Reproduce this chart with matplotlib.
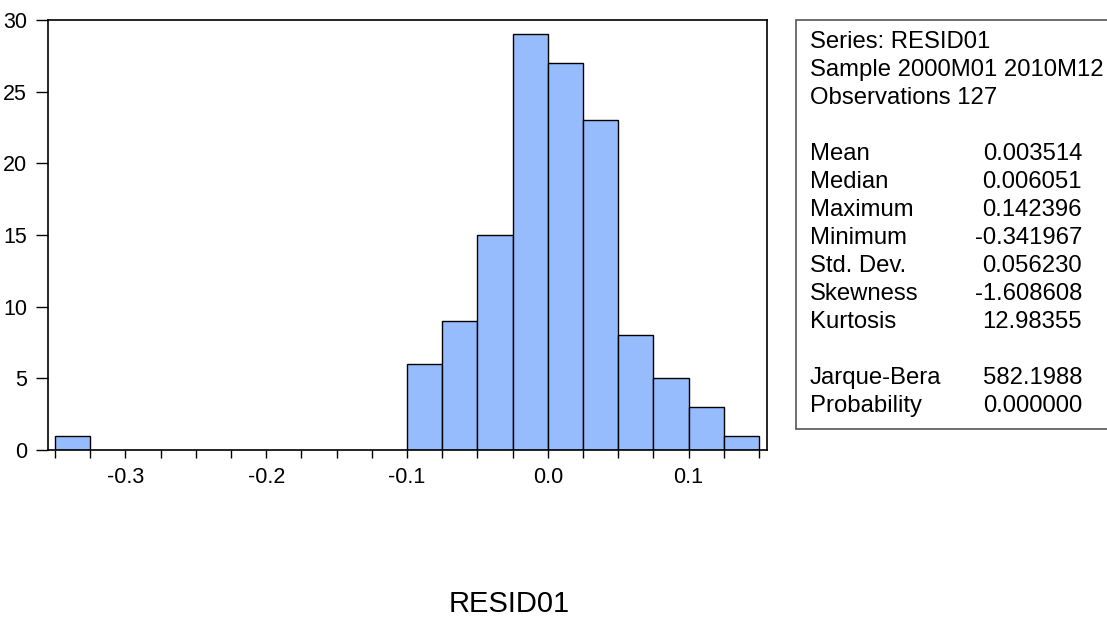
import matplotlib
matplotlib.use("Agg")
import matplotlib.pyplot as plt
from matplotlib.patches import Rectangle

plt.rcParams['font.family'] = ['Liberation Sans', 'DejaVu Sans']

# histogram of RESID01, bins of width 0.025
bin_left = [-0.35, -0.325, -0.3, -0.275, -0.25, -0.225, -0.2, -0.175, -0.15, -0.125,
            -0.1, -0.075, -0.05, -0.025, 0.0, 0.025, 0.05, 0.075, 0.1, 0.125]
counts = [1, 0, 0, 0, 0, 0, 0, 0, 0, 0,
          6, 9, 15, 29, 27, 23, 8, 5, 3, 1]

x_ticks = [-0.3, -0.2, -0.1, 0.0, 0.1]
y_ticks = [0, 5, 10, 15, 20, 25, 30]

header_lines = ["Series: RESID01", "Sample 2000M01 2010M12", "Observations 127"]
stat_names = ["Mean", "Median", "Maximum", "Minimum", "Std. Dev.", "Skewness", "Kurtosis",
              "", "Jarque-Bera", "Probability"]
stat_values = ["0.003514", "0.006051", "0.142396", "-0.341967", "0.056230", "-1.608608",
               "12.98355", "", "582.1988", "0.000000"]

W, H = 1107, 626
fig = plt.figure(figsize=(W / 100, H / 100), dpi=100)


def fx(x):
    return x / W


def fy(y):
    return 1 - y / H


ax = fig.add_axes([fx(48), fy(450), fx(767) - fx(48), fy(20) - fy(450)])

# skip empty bins so no flat outlines are drawn on the axis
bx = [b for b, c in zip(bin_left, counts) if c > 0]
bc = [c for c in counts if c > 0]
ax.bar(bx, bc, width=0.025, align='edge', color='#96BCFD', edgecolor='black', linewidth=1)

ax.set_xlim(-0.355, 0.1557)
ax.set_ylim(0, 30)
ax.set_yticks(y_ticks)
ax.set_xticks(x_ticks)
ax.set_xticklabels(["%.1f" % t for t in x_ticks])
ax.set_xticks([-0.35 + 0.025 * i for i in range(21)], minor=True)
ax.tick_params(axis='y', direction='out', length=9, width=1, labelsize=15.5, pad=6)
ax.tick_params(axis='x', which='both', direction='out', length=6, width=1, labelsize=15.5, pad=6)
for s in ax.spines.values():
    s.set_linewidth(1.2)

# stats box
fig.add_artist(Rectangle((fx(796), fy(429)), fx(1120) - fx(796), fy(20) - fy(429),
                         transform=fig.transFigure, facecolor='white',
                         edgecolor='#555555', linewidth=1.2, clip_on=False))

y0, step = 42, 28
for i, t in enumerate(header_lines):
    fig.text(fx(810), fy(y0 + step * i), t, fontsize=17.2, va='center', ha='left')
for i, (n, v) in enumerate(zip(stat_names, stat_values)):
    yy = y0 + step * (i + 4)
    if n:
        fig.text(fx(810), fy(yy), n, fontsize=17.2, va='center', ha='left')
        fig.text(fx(1082), fy(yy), v, fontsize=17.2, va='center', ha='right')

fig.text(fx(509), fy(604), "RESID01", fontsize=21, va='center', ha='center')

fig.savefig("out.png", dpi=100)
